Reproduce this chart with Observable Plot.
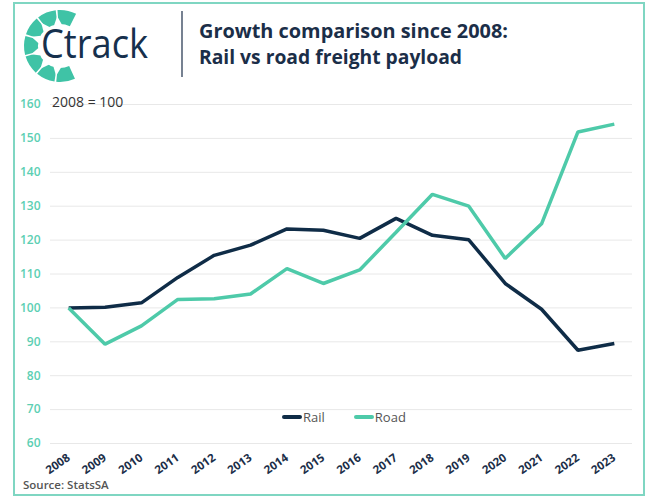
<!DOCTYPE html>
<html>
<head>
<meta charset="utf-8">
<script src="https://cdn.jsdelivr.net/npm/d3@7"></script>
<script src="https://cdn.jsdelivr.net/npm/@observablehq/plot@0.6"></script>
<style>
  body { margin: 0; background: #fff; }
  #card { position: relative; width: 672px; height: 501px; overflow: hidden; font-family: "Open Sans", sans-serif; }
  #frame { position: absolute; left: 13px; top: 2px; width: 628px; height: 490px; border: 2px solid #7fd6c2; }
  #plot { position: absolute; left: 0; top: 90px; }
  #note { position: absolute; left: 52px; top: 92px; font-size: 14px; color: #333; }
  #legend { position: absolute; top: 408px; left: 282px; font-size: 13px; color: #555; display: flex; align-items: center; }
  #legend .sw { display: inline-block; width: 20px; height: 3.5px; border-radius: 2px; margin-right: 1px; }
  #source { position: absolute; left: 23px; top: 477px; font-size: 11.5px; color: #555; font-weight: 600; }
</style>
</head>
<body>
<div id="card">
  <div id="frame"></div>
  <svg id="header" width="672" height="90" style="position:absolute;left:0;top:0"></svg>
  <div id="plot"></div>
  <div id="note">2008 = 100</div>
  <div id="legend">
    <span class="sw" style="background:#0f2c47"></span><span>Rail</span>
    <span style="width:29px;display:inline-block"></span>
    <span class="sw" style="background:#4ecaa9"></span><span>Road</span>
  </div>
  <div id="source">Source: StatsSA</div>
</div>
<script>
const years = [2008,2009,2010,2011,2012,2013,2014,2015,2016,2017,2018,2019,2020,2021,2022,2023];
const rail  = [100,100.2,101.5,109,115.5,118.5,123.3,122.9,120.5,126.4,121.4,120.1,107.2,99.6,87.5,89.5];
const road  = [100,89.3,94.7,102.5,102.7,104.1,111.6,107.2,111.2,122.3,133.5,130,114.6,124.8,151.9,154.2];
const yTicks = [60,70,80,90,100,110,120,130,140,150,160];
const seriesNames = ["Rail","Road"];
const colors = ["#0f2c47","#4ecaa9"];

const data = [];
years.forEach((yr,i) => {
  data.push({year: yr, value: rail[i], series: seriesNames[0]});
  data.push({year: yr, value: road[i], series: seriesNames[1]});
});

const chart = Plot.plot({
  width: 672,
  height: 405,
  marginTop: 14,
  marginBottom: 52,
  marginLeft: 50,
  marginRight: 40,
  style: {fontFamily: "'Open Sans', sans-serif", background: "transparent"},
  x: {type: "linear", domain: [2007.5, 2023.5]},
  y: {domain: [60, 160]},
  color: {domain: seriesNames, range: colors},
  marks: [
    Plot.ruleY(yTicks, {stroke: "#e8e8e8", strokeWidth: 1}),
    Plot.axisY({ticks: yTicks, tickSize: 0, tickPadding: 10, fill: "#5ccfb3", fontSize: 12, fontWeight: 600, label: null}),
    Plot.axisX({ticks: years, tickFormat: d => String(d), tickRotate: -35, tickSize: 0, tickPadding: 13, fill: "#1b2e48", fontSize: 11.5, fontWeight: 700, label: null}),
    Plot.line(data, {x: "year", y: "value", z: "series", stroke: "series", strokeWidth: 3.5, strokeLinejoin: "miter", strokeLinecap: "butt"})
  ]
});
document.getElementById("plot").appendChild(chart);

// Header: logo, divider, title
const hdr = d3.select("#header");
const teal = "#3fc3a6";
const cx = 60, cy = 46;
const nSeg = 7, a0 = 154 * Math.PI/180, a1 = 388 * Math.PI/180;
const step = (a1 - a0) / nSeg;
const arc = d3.arc().innerRadius(22).outerRadius(36);
const g = hdr.append("g").attr("transform", `translate(${cx},${cy})`);
for (let i = 0; i < nSeg; i++) {
  g.append("path")
    .attr("d", arc({startAngle: a0 + i*step + 0.025, endAngle: a0 + (i+1)*step - 0.025}))
    .attr("fill", teal);
}
for (let i = 1; i < nSeg; i++) {
  const a = a0 + i*step;
  const sx = Math.sin(a), sy = -Math.cos(a);
  const px = -sy, py = sx;
  const r1 = 21, r2 = 30, w = 4;
  g.append("path")
    .attr("d", `M${sx*r1 + px*w},${sy*r1 + py*w} L${sx*r2},${sy*r2} L${sx*r1 - px*w},${sy*r1 - py*w} Z`)
    .attr("fill", "#fff");
}
hdr.append("text").attr("x", 41).attr("y", 58)
  .attr("font-family", "'Open Sans', sans-serif").attr("font-size", 40).attr("font-weight", 500)
  .attr("fill", "#16304d").attr("textLength", 107).attr("lengthAdjust", "spacingAndGlyphs")
  .text("Ctrack");
hdr.append("line").attr("x1", 182).attr("x2", 182).attr("y1", 11).attr("y2", 77)
  .attr("stroke", "#1b2e48").attr("stroke-width", 1.2);
hdr.append("text").attr("x", 199).attr("y", 38)
  .attr("font-family", "'Open Sans', sans-serif").attr("font-size", 19).attr("font-weight", 700)
  .attr("fill", "#1b2e48").attr("textLength", 309).attr("lengthAdjust", "spacingAndGlyphs")
  .text("Growth comparison since 2008:");
hdr.append("text").attr("x", 199).attr("y", 64)
  .attr("font-family", "'Open Sans', sans-serif").attr("font-size", 19).attr("font-weight", 700)
  .attr("fill", "#1b2e48").attr("textLength", 263).attr("lengthAdjust", "spacingAndGlyphs")
  .text("Rail vs road freight payload");
</script>
</body>
</html>
